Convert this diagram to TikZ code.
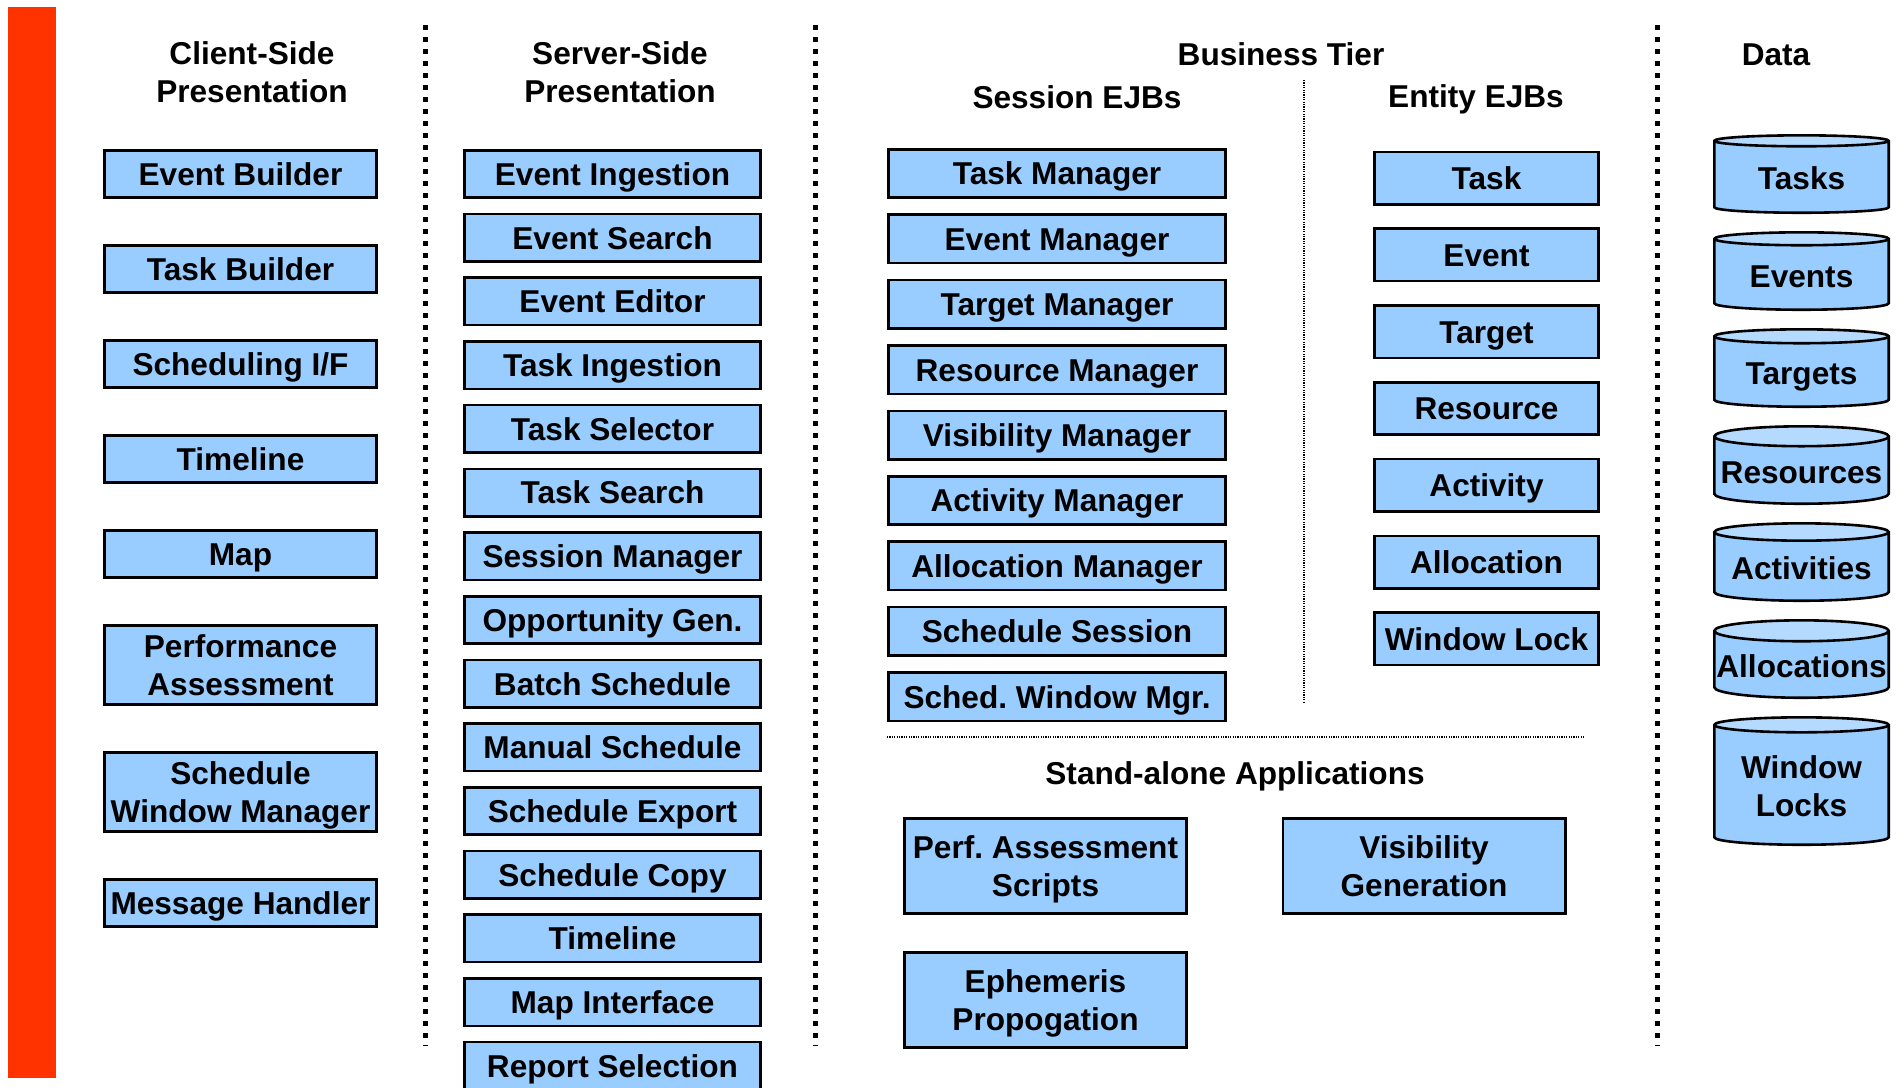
\documentclass[tikz,border=0pt]{standalone}
\usepackage{fontspec}
\setmainfont{Liberation Sans}
\usetikzlibrary{positioning}
\usetikzlibrary{shapes.geometric}
\usepackage{xcolor}
\definecolor{boxblue}{HTML}{99CCFF}
\definecolor{capblue}{HTML}{B5DAFF}
\definecolor{barred}{HTML}{FF3300}
\frenchspacing

\begin{document}
\begin{tikzpicture}[x=0.5pt, y=-0.5pt, node distance=22.5pt,
    every node/.style={align=center, font=\fontsize{15.8}{18.8}\selectfont\bfseries},
    box/.style={draw, line width=1.3pt, fill=boxblue, inner sep=1pt},
    one/.style={text height=11.4pt, text depth=0pt},
    two/.style={text height=30.2pt, text depth=0pt},
    clientbox/.style={box, minimum width=136.2pt, minimum height=23.7pt},
    serverbox/.style={box, one, minimum width=148.2pt, minimum height=23.7pt},
    sessionbox/.style={box, one, minimum width=168.7pt, minimum height=24.2pt},
    entitybox/.style={box, one, minimum width=112.2pt, minimum height=26.2pt},
    appbox/.style={box, two, minimum width=141.2pt, minimum height=47.7pt},
    store/.style={cylinder, shape border rotate=90, aspect=0.12, draw, line width=1.3pt,
        cylinder uses custom fill, cylinder body fill=boxblue, cylinder end fill=capblue,
        minimum width=87.2pt, minimum height=38.7pt, inner sep=1pt},
    sepline/.style={line width=2.5pt, dash pattern=on 2.5pt off 3.5pt},
    thinline/.style={line width=0.6pt, dash pattern=on 0.6pt off 0.6pt}]
    \useasboundingbox (0,0) rectangle (1898,1087);
    \fill [barred] (8,7) rectangle (56,1078);
    \draw [sepline] (425,25) -- (425,1046);
    \draw [sepline] (815,25) -- (815,1046);
    \draw [sepline] (1657,25) -- (1657,1046);
    \draw [thinline] (1304,80) -- (1304,703);
    \draw [thinline] (887,737) -- (1585,737);

    \node (client) at (252,72) {Client-Side\\Presentation};
    \node (server) at (620,72) {Server-Side\\Presentation};
    \node [one] (business) at (1281,54) {Business Tier};
    \node [one] (session) at (1077,97) {Session EJBs};
    \node [one] (entity) at (1476,96) {Entity EJBs};
    \node [one] (data) at (1776,54) {Data};
    \node [one] (standalone) at (1235,773) {Stand-alone Applications};

    \node [clientbox, one] (evbuilder) at (240.5,174) {Event Builder};
    \node [clientbox, one] (tkbuilder) [below=of evbuilder] {Task Builder};
    \node [clientbox, one] (schedif) [below=of tkbuilder] {Scheduling I/F};
    \node [clientbox, one] (cltimeline) [below=of schedif] {Timeline};
    \node [clientbox, one] (clmap) [below=of cltimeline] {Map};
    \node [clientbox, two, minimum height=39.7pt] (perfassess) [below=of clmap] {Performance\\Assessment};
    \node [clientbox, two, minimum height=39.7pt] (schedwin) [below=of perfassess] {Schedule\\Window Manager};
    \node [clientbox, one] (msghandler) [below=of schedwin] {Message Handler};

    \node [serverbox] (evingest) at (612.5,174) {Event Ingestion};
    \node [serverbox] (evsearch) [below=6.85pt of evingest] {Event Search};
    \node [serverbox] (eveditor) [below=6.85pt of evsearch] {Event Editor};
    \node [serverbox] (tkingest) [below=6.85pt of eveditor] {Task Ingestion};
    \node [serverbox] (tkselect) [below=6.85pt of tkingest] {Task Selector};
    \node [serverbox] (tksearch) [below=6.85pt of tkselect] {Task Search};
    \node [serverbox] (sessmgr) [below=6.85pt of tksearch] {Session Manager};
    \node [serverbox] (oppgen) [below=6.85pt of sessmgr] {Opportunity Gen.};
    \node [serverbox] (batch) [below=6.85pt of oppgen] {Batch Schedule};
    \node [serverbox] (manual) [below=6.85pt of batch] {Manual Schedule};
    \node [serverbox] (export) [below=6.85pt of manual] {Schedule Export};
    \node [serverbox] (copy) [below=6.85pt of export] {Schedule Copy};
    \node [serverbox] (svtimeline) [below=6.85pt of copy] {Timeline};
    \node [serverbox] (mapif) [below=6.85pt of svtimeline] {Map Interface};
    \node [serverbox] (report) [below=6.85pt of mapif] {Report Selection};

    \node [sessionbox] (taskmgr) at (1057,173.5) {Task Manager};
    \node [sessionbox] (eventmgr) [below=7.2pt of taskmgr] {Event Manager};
    \node [sessionbox] (targetmgr) [below=7.2pt of eventmgr] {Target Manager};
    \node [sessionbox] (resmgr) [below=7.2pt of targetmgr] {Resource Manager};
    \node [sessionbox] (vismgr) [below=7.2pt of resmgr] {Visibility Manager};
    \node [sessionbox] (actmgr) [below=7.2pt of vismgr] {Activity Manager};
    \node [sessionbox] (allocmgr) [below=7.2pt of actmgr] {Allocation Manager};
    \node [sessionbox] (schedsess) [below=7.2pt of allocmgr] {Schedule Session};
    \node [sessionbox] (schedwinmgr) [below=7.2pt of schedsess] {Sched. Window Mgr.};

    \node [entitybox] (task) at (1486.5,178) {Task};
    \node [entitybox] (event) [below=10.9pt of task] {Event};
    \node [entitybox] (target) [below=10.9pt of event] {Target};
    \node [entitybox] (resource) [below=10.9pt of target] {Resource};
    \node [entitybox] (activity) [below=10.9pt of resource] {Activity};
    \node [entitybox] (allocation) [below=10.9pt of activity] {Allocation};
    \node [entitybox] (winlock) [below=10.9pt of allocation] {Window Lock};

    \node [appbox] (perfscripts) at (1045.5,866) {Perf. Assessment\\Scripts};
    \node [appbox] (visgen) at (1424,866) {Visibility\\Generation};
    \node [appbox] (ephem) [below=18pt of perfscripts] {Ephemeris\\Propogation};

    \node [store, one] (tasks) at (1801.5,178) {Tasks};
    \node [store, one] (events) [below=8.5pt of tasks] {Events};
    \node [store, one] (targets) [below=8.5pt of events] {Targets};
    \node [store, one] (resources) [below=8.5pt of targets] {Resources};
    \node [store, one] (activities) [below=8.5pt of resources] {Activities};
    \node [store, one] (allocations) [below=8.5pt of activities] {Allocations};
    \node [store, two, minimum height=63.7pt] (winlocks) [below=8.5pt of allocations] {Window\\Locks};
\end{tikzpicture}
\end{document}
